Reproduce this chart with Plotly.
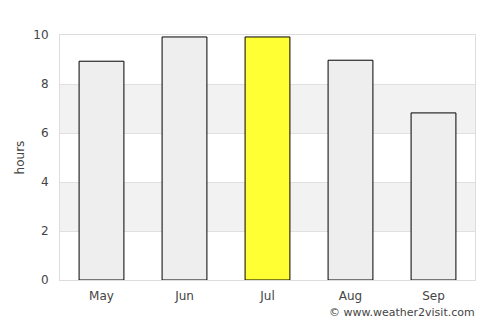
import plotly.graph_objects as go

months = ["May", "Jun", "Jul", "Aug", "Sep"]
hours = [8.93, 9.92, 9.92, 8.97, 6.82]
colors = ["#eeeeee", "#eeeeee", "#ffff33", "#eeeeee", "#eeeeee"]
y_ticks = [0, 2, 4, 6, 8, 10]
bands = [(2, 4), (6, 8)]

fig = go.Figure()
fig.add_trace(go.Bar(
    x=months, y=hours, width=0.54,
    marker=dict(color=colors, line=dict(color="#000000", width=1)),
    hoverinfo="x+y",
))

shapes = []
for y0, y1 in bands:
    shapes.append(dict(type="rect", xref="paper", yref="y", x0=0, x1=1, y0=y0, y1=y1,
                       fillcolor="#f2f2f2", line=dict(width=0), layer="below"))

fig.update_layout(
    width=500, height=325,
    margin=dict(l=60, r=25, t=35, b=45),
    paper_bgcolor="#ffffff", plot_bgcolor="#ffffff",
    font=dict(family="DejaVu Sans", size=12, color="#444444"),
    shapes=shapes,
    showlegend=False,
    bargap=0.46,
    xaxis=dict(showgrid=False, showline=True, linecolor="#dddddd", mirror=True,
               ticks="", ticklabelstandoff=5, tickfont=dict(size=12, color="#444444")),
    yaxis=dict(range=[0, 10], tickvals=y_ticks, showgrid=True, gridcolor="#e0e0e0",
               showline=True, linecolor="#dddddd", mirror=True, zeroline=False,
               ticks="", ticklen=0, ticklabelstandoff=8, tickfont=dict(size=12, color="#444444"),
               title=dict(text="hours", font=dict(size=12, color="#444444"), standoff=6)),
    annotations=[dict(text="© www.weather2visit.com", xref="paper", yref="paper",
                      x=1, y=0, xanchor="right", yanchor="top", yshift=-24, xshift=2,
                      showarrow=False, font=dict(size=11, color="#444444"))],
)
fig.write_html("out.html")
